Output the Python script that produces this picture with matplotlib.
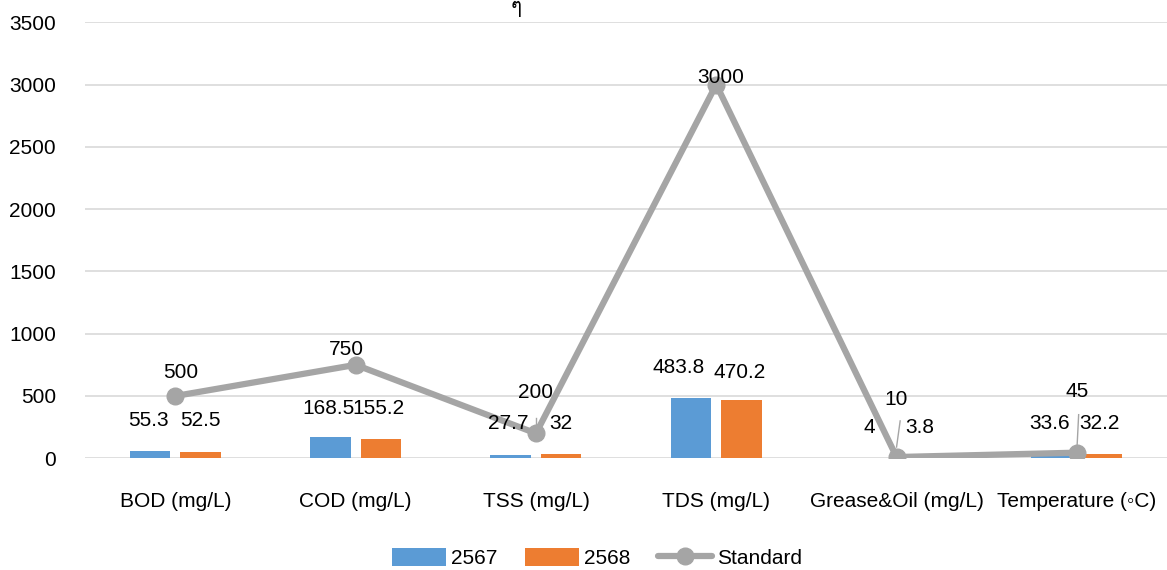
import matplotlib
matplotlib.use("Agg")
import matplotlib.pyplot as plt
from matplotlib import font_manager
from matplotlib.ft2font import FT2Font
import numpy as np

categories = ["BOD (mg/L)", "COD (mg/L)", "TSS (mg/L)", "TDS (mg/L)",
              "Grease&Oil (mg/L)", "Temperature (\u25e6C)"]
vals_2567 = [55.3, 168.5, 27.7, 483.8, 4, 33.6]
vals_2568 = [52.5, 155.2, 32, 470.2, 3.8, 32.2]
standard = [500, 750, 200, 3000, 10, 45]
yticks = [0, 500, 1000, 1500, 2000, 2500, 3000, 3500]
top_text = "\u0e46"

# label layout (x offset in category units, y in data units)
lab1_pos = [(-0.15, 305), (-0.15, 401), (-0.155, 281), (-0.21, 730), (-0.15, 249), (-0.15, 281)]
lab2_pos = [(0.14, 305), (0.125, 401), (0.14, 281), (0.13, 690), (0.13, 249), (0.125, 281)]
lab3_pos = [(0.03, 690), (-0.05, 875), (0.0, 530), (0.025, 3059), (0.0, 474), (0.0, 538)]

plt.rcParams['font.family'] = ['Liberation Sans', 'DejaVu Sans', 'Noto Sans']

# find an installed family that has the Thai glyph
thai_fams = []
for f in font_manager.fontManager.ttflist:
    try:
        if ord(top_text) in FT2Font(f.fname).get_charmap():
            if f.name not in thai_fams:
                thai_fams.append(f.name)
    except Exception:
        pass

FS = 15
fig = plt.figure(figsize=(11.67, 5.70), dpi=100)
ax = fig.add_axes([0.073, 0.196, 0.927, 0.765])

x = np.arange(len(categories))
w = 0.225
off = 0.14
c1, c2, c3 = "#5b9bd5", "#ed7d31", "#a5a5a5"
b1 = ax.bar(x - off, vals_2567, w, color=c1, label="2567", zorder=2)
b2 = ax.bar(x + off, vals_2568, w, color=c2, label="2568", zorder=2)
ln, = ax.plot(x, standard, color=c3, lw=4.5, marker='o', ms=12, label="Standard", zorder=3,
              solid_capstyle='round')

ax.set_xlim(-0.5, len(categories) - 0.5)
ax.set_ylim(0, 3500)
ax.set_yticks(yticks)
ax.set_yticklabels([str(t) for t in yticks], fontsize=FS)
ax.set_xticks(x)
ax.set_xticklabels(categories, fontsize=FS)
ax.tick_params(axis='y', length=0, pad=21)
ax.tick_params(axis='x', length=0, pad=24)
ax.grid(axis='y', color='#d9d9d9', lw=1.2, zorder=0)
ax.set_axisbelow(True)
for s in ax.spines.values():
    s.set_visible(False)

for i in range(len(categories)):
    ax.text(i + lab1_pos[i][0], lab1_pos[i][1], f"{vals_2567[i]:g}", ha='center', va='center', fontsize=FS)
    ax.text(i + lab2_pos[i][0], lab2_pos[i][1], f"{vals_2568[i]:g}", ha='center', va='center', fontsize=FS)
    ax.text(i + lab3_pos[i][0], lab3_pos[i][1], f"{standard[i]:g}", ha='center', va='center', fontsize=FS)

# leader lines
for (x0, y0, x1, y1) in [(2.0, 320, 2.0, 200), (4.0, 90, 4.02, 300), (5.0, 60, 5.01, 350)]:
    ax.plot([x0, x1], [y0, y1], color='#a5a5a5', lw=1, zorder=4)

ax.legend([b1, b2, ln], ["2567", "2568", "Standard"],
          loc='center', bbox_to_anchor=(0.473, -0.229), ncol=3, frameon=False,
          fontsize=FS, handlelength=2.6, handleheight=0.9, columnspacing=1.3, handletextpad=0.25)

fig.text(0.442, 0.986, top_text, ha='center', va='center', fontsize=FS,
         family=thai_fams + ['DejaVu Sans'])

fig.savefig("out.png", dpi=100)
